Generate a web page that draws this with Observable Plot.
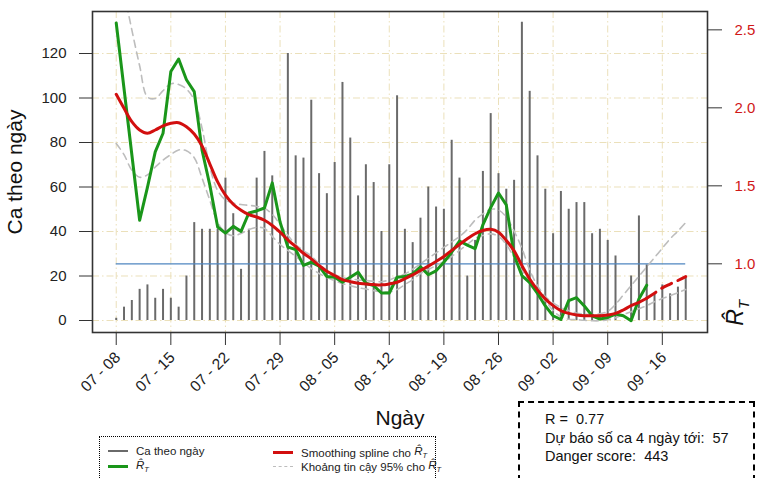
<!DOCTYPE html>
<html>
<head>
<meta charset="utf-8">
<script src="https://cdn.jsdelivr.net/npm/d3@7"></script>
<script src="https://cdn.jsdelivr.net/npm/@observablehq/plot@0.6"></script>
<style>
  body { margin: 0; background: #fff; font-family: "Liberation Sans", Arial, sans-serif; }
  #wrap { position: relative; width: 757px; height: 478px; overflow: hidden; background: #fff; }
  #wrap svg { position: absolute; left: 0; top: 0; }
  .legend { position: absolute; left: 99px; top: 436px; width: 337px; height: 60px; border: 1.5px dotted #000; box-sizing: border-box; font-size: 11.5px; color: #222; }
  .li { position: absolute; display: flex; align-items: center; white-space: nowrap; }
  .sw { display: inline-block; width: 20px; margin-right: 8px; }
  .info { position: absolute; left: 518px; top: 401px; width: 237px; height: 80px; border: 2px dashed #000; box-sizing: border-box; font-size: 14.5px; color: #111; }
  .info div { position: absolute; left: 25px; white-space: pre; }
  .rlab { position: absolute; left: 724px; top: 298px; font-size: 23px; transform: rotate(-90deg); transform-origin: center; font-style: italic; color: #111; }
  sub { font-size: 0.65em; }
</style>
</head>
<body>
<div id="wrap"></div>
<script>
// ---- data ----
const startDate = "2021-07-08";
const cases = [1,6,9,14,16,10,14,10,6,20,44,41,41,41,64,48,23,41,64,76,65,40,120,74,73,99,66,57,71,107,82,56,70,62,40,70,101,41,35,46,60,51,50,81,64,20,36,67,93,66,59,63,134,103,74,59,39,58,50,53,53,39,41,36,29,0,20,47,25,12,16,12,15,19];
const rt = [2.544,null,null,1.279,1.49,1.718,1.837,2.233,2.313,2.18,2.104,1.729,1.504,1.236,1.197,1.24,1.208,1.326,1.339,1.358,1.519,1.268,1.107,1.092,0.99,1.01,0.985,0.918,0.914,0.882,0.914,0.946,0.875,0.86,0.813,0.813,0.914,0.918,0.936,0.98,0.93,0.955,1.01,1.075,1.146,1.12,1.097,1.25,1.36,1.454,1.378,1.055,0.925,0.88,0.81,0.73,0.667,0.643,0.764,0.783,0.73,0.667,0.646,0.656,0.678,0.667,0.635,0.775,0.863];
const smooth = [2.087,1.997,1.911,1.858,1.837,1.858,1.884,1.901,1.905,1.879,1.832,1.755,1.64,1.525,1.44,1.382,1.343,1.315,1.30,1.279,1.246,1.203,1.154,1.111,1.068,1.032,0.989,0.952,0.925,0.899,0.886,0.875,0.871,0.867,0.865,0.871,0.882,0.905,0.929,0.957,0.985,1.015,1.047,1.086,1.124,1.161,1.193,1.214,1.221,1.203,1.15,1.083,0.989,0.903,0.833,0.775,0.732,0.70,0.682,0.672,0.667,0.667,0.667,0.672,0.682,0.704,0.732,0.753,0.779,0.812,0.846,0.87,0.893,0.918];
const forecastFrom = 68;
const upperCI = [2.96,2.74,2.50,2.27,2.07,2.06,2.11,2.155,2.15,2.12,2.05,1.87,1.62,1.47,1.41,1.39,1.38,1.375,1.368,1.356,1.317,1.253,1.183,1.124,1.085,1.05,1.0,0.955,0.93,0.912,0.903,0.897,0.893,0.888,0.885,0.897,0.915,0.935,0.965,1.0,1.035,1.07,1.105,1.14,1.175,1.22,1.28,1.32,1.35,1.345,1.30,1.21,1.1,0.96,0.86,0.79,0.75,0.72,0.70,0.685,0.678,0.675,0.68,0.695,0.74,0.80,0.86,0.92,0.98,1.04,1.10,1.16,1.21,1.265];
const lowerCI = [1.772,1.70,1.60,1.555,1.57,1.62,1.665,1.70,1.73,1.725,1.68,1.55,1.407,1.266,1.2,1.18,1.195,1.22,1.234,1.227,1.176,1.124,1.086,1.047,1.008,0.97,0.938,0.912,0.893,0.873,0.86,0.847,0.838,0.828,0.822,0.819,0.835,0.867,0.899,0.938,0.963,0.989,1.015,1.047,1.086,1.124,1.163,1.182,1.192,1.176,1.124,1.04,0.957,0.88,0.822,0.764,0.70,0.661,0.645,0.642,0.638,0.635,0.635,0.642,0.654,0.674,0.693,0.712,0.732,0.757,0.777,0.796,0.815,0.835];
const refR = [1];
const caseTicks = [0,20,40,60,80,100,120];
const rTicks = [1.0,1.5,2.0,2.5];
const weekTicks = ["2021-07-08","2021-07-15","2021-07-22","2021-07-29","2021-08-05","2021-08-12","2021-08-19","2021-08-26","2021-09-02","2021-09-09","2021-09-16"];

// ---- build ----
const start = new Date(startDate);
const dates = cases.map((_, i) => d3.utcDay.offset(start, i));
const R_BASE = 25.48, R_SCALE = 70.1;
const toCase = r => R_BASE + (r - 1) * R_SCALE;
const weekDates = weekTicks.map(s => new Date(s));
const fmt = d3.utcFormat("%m - %d");

const caseData = cases.map((c, i) => ({date: dates[i], c}));
const rtData = rt.map((r, i) => ({date: dates[i], r})).filter(d => d.r != null);
const smoothData = smooth.map((r, i) => ({date: dates[i], r, i}));
const upData = upperCI.map((r, i) => ({date: dates[i], r}));
const loData = lowerCI.map((r, i) => ({date: dates[i], r}));

const gridStyle = {stroke: "#e9ddb2", strokeOpacity: 0.9, strokeDasharray: "7,3,1.5,3", strokeWidth: 1};

const chart = Plot.plot({
  width: 757, height: 478,
  marginLeft: 92, marginRight: 50, marginTop: 11, marginBottom: 146,
  style: {fontFamily: "'Liberation Sans', Arial, sans-serif", background: "transparent", overflow: "visible"},
  x: {type: "utc", domain: [d3.utcHour.offset(start, -73), d3.utcHour.offset(start, 75*24 + 19)]},
  y: {domain: [-5.39, 138.88]},
  marks: [
    Plot.gridY({ticks: caseTicks, ...gridStyle}),
    Plot.gridX({ticks: weekDates, ...gridStyle}),
    Plot.ruleX(caseData, {x: "date", y1: 0, y2: "c", stroke: "#6a6a6a", strokeWidth: 2}),
    Plot.ruleY(refR, {y: toCase, x1: dates[0], x2: dates[dates.length - 1], stroke: "#4f86c0", strokeWidth: 1.3}),
    Plot.line(upData, {x: "date", y: d => toCase(d.r), stroke: "#bdbdbd", strokeWidth: 1.6, strokeDasharray: "7,5", curve: "catmull-rom", clip: true}),
    Plot.line(loData, {x: "date", y: d => toCase(d.r), stroke: "#bdbdbd", strokeWidth: 1.6, strokeDasharray: "7,5", curve: "catmull-rom", clip: true}),
    Plot.line(rtData, {x: "date", y: d => toCase(d.r), stroke: "#1a961a", strokeWidth: 3, strokeLinejoin: "round"}),
    Plot.line(smoothData.filter(d => d.i <= forecastFrom), {x: "date", y: d => toCase(d.r), stroke: "#d20f0f", strokeWidth: 3, curve: "catmull-rom"}),
    Plot.line(smoothData.filter(d => d.i >= forecastFrom), {x: "date", y: d => toCase(d.r), stroke: "#d20f0f", strokeWidth: 3, strokeDasharray: "11,7", curve: "catmull-rom"}),
    Plot.frame({stroke: "#333", strokeWidth: 1.6}),
    Plot.axisY({anchor: "left", ticks: caseTicks, tickSize: 13, tickPadding: 13, fontSize: 15, label: null, stroke: "#333", fill: "#222"}),
    Plot.axisY({anchor: "right", ticks: rTicks.map(toCase), tickFormat: v => ((v - R_BASE) / R_SCALE + 1).toFixed(1), tickSize: 14, tickPadding: 13, fontSize: 15, label: null, stroke: "#333", fill: "#d01818"}),
    Plot.axisX({ticks: weekDates, tickSize: 13, tickFormat: () => "", label: null, stroke: "#333"}),
    Plot.text(weekDates, {x: d => d, frameAnchor: "bottom", text: d => fmt(d), rotate: -45, textAnchor: "end", lineAnchor: "bottom", dx: 5, dy: 26, fontSize: 15.5, fill: "#222"}),
    Plot.text(["Ngày"], {frameAnchor: "bottom", text: d => d, dy: 92, lineAnchor: "bottom", fontSize: 21, fill: "#111"}),
    Plot.text(["Ca theo ngày"], {frameAnchor: "left", text: d => d, dx: -71, rotate: -90, textAnchor: "middle", lineAnchor: "bottom", fontSize: 21, fill: "#111"})
  ]
});

const wrap = document.getElementById("wrap");
wrap.appendChild(chart);

wrap.insertAdjacentHTML("beforeend", `
<div class="rlab">R&#x0302;<sub>T</sub></div>
<div class="legend">
  <div class="li" style="left:8px;top:8px"><span class="sw" style="border-top:2px solid #6a6a6a"></span>Ca theo ngày</div>
  <div class="li" style="left:8px;top:22px"><span class="sw" style="border-top:3px solid #1a961a"></span><i>R&#x0302;<sub>T</sub></i></div>
  <div class="li" style="left:173px;top:8px"><span class="sw" style="border-top:3px solid #d20f0f"></span>Smoothing spline cho&nbsp;<i>R&#x0302;<sub>T</sub></i></div>
  <div class="li" style="left:173px;top:22px"><span class="sw" style="border-top:1.5px dashed #bdbdbd"></span>Khoảng tin cậy 95% cho&nbsp;<i>R&#x0302;<sub>T</sub></i></div>
</div>
<div class="info">
  <div style="top:8px">R =  0.77</div>
  <div style="top:27px">Dự báo số ca 4 ngày tới:  57</div>
  <div style="top:45px">Danger score:  443</div>
</div>`);
</script>
</body>
</html>
